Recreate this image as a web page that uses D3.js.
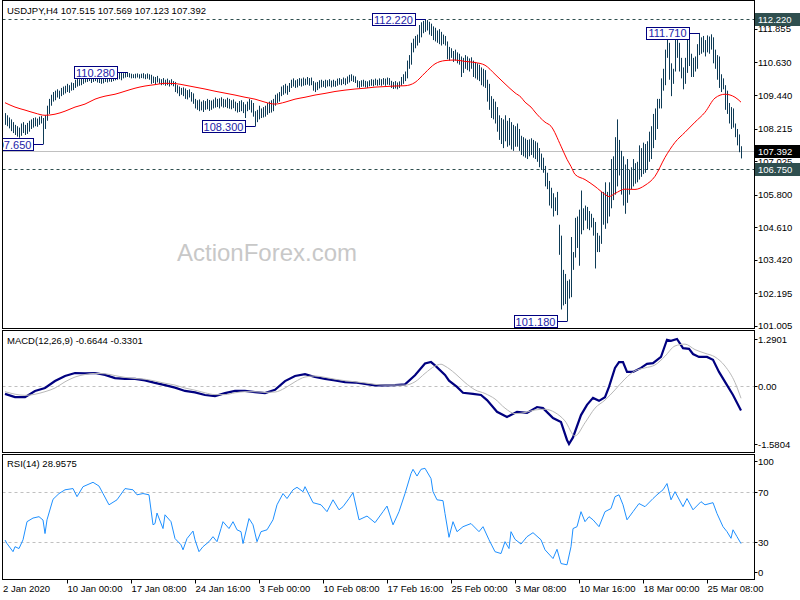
<!DOCTYPE html>
<html>
<head>
<meta charset="utf-8">
<script src="https://cdn.jsdelivr.net/npm/d3@7"></script>
<style>
html, body { margin: 0; padding: 0; background: #fff; }
svg { display: block; font-family: "Liberation Sans", Arial, sans-serif; }
</style>
</head>
<body>
<svg id="chart" width="800" height="600"></svg>
<script>
// USDJPY H4 bars, one entry per bar (high / low)
let highs = [
  108.78,108.70,108.62,108.55,108.45,108.35,108.30,108.25,108.40,108.45,
  108.35,108.42,108.50,108.55,108.60,108.62,108.58,108.65,108.68,108.60,
  108.70,109.05,109.30,109.45,109.55,109.60,109.65,109.60,109.70,109.75,
  109.78,109.85,109.80,109.90,109.88,110.00,110.05,110.02,110.08,110.15,
  110.18,110.22,110.20,110.15,110.18,110.20,110.12,110.18,110.15,110.10,
  110.16,110.12,110.18,110.14,110.20,110.25,110.22,110.27,110.25,110.24,
  110.26,110.28,110.24,110.22,110.20,110.22,110.23,110.20,110.22,110.24,
  110.20,110.23,110.20,110.18,110.12,110.10,110.14,110.05,110.02,110.06,
  110.00,110.04,109.98,110.02,109.95,109.92,109.80,109.75,109.70,109.72,
  109.68,109.62,109.65,109.55,109.50,109.30,109.25,109.28,109.20,109.25,
  109.22,109.30,109.26,109.24,109.28,109.35,109.30,109.32,109.36,109.30,
  109.28,109.34,109.30,109.25,109.28,109.20,109.15,109.22,109.25,109.18,
  109.10,109.20,109.30,109.25,109.15,108.85,108.90,109.05,108.95,109.00,
  109.05,109.15,109.20,109.25,109.30,109.45,109.50,109.55,109.75,109.80,
  109.85,109.78,109.88,110.00,110.05,109.98,110.02,110.06,110.04,110.08,
  110.04,110.10,110.06,110.08,109.95,109.90,109.92,109.98,110.00,109.96,
  110.00,109.98,110.02,109.97,110.00,109.96,110.04,110.06,110.02,110.08,
  110.05,110.12,110.18,110.20,110.15,110.12,109.98,109.95,109.98,110.00,
  109.96,109.94,109.98,110.02,110.00,110.04,110.00,110.05,110.02,110.06,
  110.04,110.08,110.06,109.96,109.92,109.95,109.90,109.94,110.10,110.20,
  110.30,110.70,110.90,111.35,111.50,111.60,111.65,112.00,112.10,112.15,
  112.22,112.18,112.12,112.05,111.95,111.90,111.80,111.85,111.75,111.65,
  111.60,111.40,111.20,111.15,111.05,111.10,111.00,110.95,110.85,110.80,
  110.90,110.85,110.78,110.82,110.70,110.65,110.60,110.55,110.45,110.40,
  110.35,110.00,109.85,109.40,109.30,109.20,109.00,108.70,108.60,108.55,
  108.70,108.50,108.60,108.45,108.35,108.30,108.40,108.20,107.95,107.90,
  107.85,107.80,107.82,107.86,107.80,107.75,107.70,107.50,107.30,107.15,
  106.85,106.60,106.30,106.05,105.85,105.70,105.90,104.70,104.30,103.05,
  102.90,102.65,102.70,104.25,103.70,104.95,105.00,105.25,105.95,105.30,
  105.40,105.35,105.20,105.10,104.95,104.80,104.40,104.30,105.90,105.90,
  106.25,105.90,106.25,107.10,107.20,107.90,108.55,107.80,107.40,107.20,
  106.90,107.10,106.70,106.80,107.10,106.95,107.00,107.60,107.50,107.70,
  107.65,107.75,108.10,108.30,108.75,108.95,109.30,109.30,110.05,110.40,
  111.10,111.50,111.35,110.60,110.40,111.65,111.65,111.35,110.80,110.45,
  110.80,111.70,111.70,110.95,110.80,110.85,111.30,111.71,111.55,111.60,
  111.45,111.62,111.58,111.66,111.55,111.10,110.90,110.85,110.20,110.05,
  109.80,109.60,109.15,109.00,108.95,108.40,108.20,108.00,107.569
];

let lows = [
  108.35,108.30,108.22,108.12,108.05,107.98,107.92,107.88,107.95,108.05,
  107.98,108.02,108.10,108.20,108.25,108.30,108.28,108.35,108.40,107.65,
  108.20,108.50,108.75,109.05,109.20,109.25,109.35,109.30,109.40,109.45,
  109.50,109.55,109.52,109.60,109.62,109.70,109.75,109.78,109.80,109.85,
  109.90,109.92,109.95,109.88,109.92,109.95,109.90,109.88,109.85,109.87,
  109.92,109.90,109.93,109.92,109.95,109.98,110.00,110.02,109.98,110.05,
  110.08,110.10,110.08,110.05,110.06,110.05,110.08,110.04,110.06,110.05,
  110.02,110.04,110.00,109.85,109.88,109.82,109.90,109.85,109.80,109.82,
  109.78,109.80,109.75,109.80,109.76,109.55,109.50,109.40,109.45,109.40,
  109.30,109.28,109.35,109.20,109.12,108.95,108.90,108.85,108.88,108.82,
  108.90,108.92,108.86,108.90,108.95,108.98,109.00,108.95,109.02,108.98,
  109.00,108.96,108.94,108.92,108.96,108.85,108.80,108.82,108.85,108.78,
  108.60,108.85,108.90,108.80,108.65,108.30,108.45,108.55,108.60,108.62,
  108.65,108.72,108.78,108.80,108.85,109.05,109.15,109.20,109.40,109.45,
  109.50,109.45,109.55,109.70,109.75,109.70,109.72,109.78,109.75,109.78,
  109.80,109.82,109.78,109.80,109.60,109.55,109.62,109.68,109.72,109.74,
  109.70,109.75,109.76,109.72,109.75,109.74,109.78,109.82,109.80,109.84,
  109.80,109.85,109.90,109.95,109.92,109.88,109.72,109.70,109.74,109.75,
  109.72,109.70,109.76,109.78,109.76,109.80,109.78,109.80,109.78,109.82,
  109.78,109.82,109.80,109.70,109.66,109.68,109.65,109.70,109.78,109.85,
  109.95,110.05,110.40,110.55,111.00,111.15,111.25,111.35,111.55,111.70,
  111.75,111.80,111.65,111.60,111.45,111.40,111.35,111.30,111.25,111.30,
  111.25,110.75,110.70,110.80,110.65,110.70,110.60,110.55,110.10,110.25,
  110.40,110.35,110.30,110.40,110.10,110.05,110.00,109.95,109.80,109.75,
  109.70,109.20,108.90,108.60,108.55,108.40,108.10,107.80,107.65,107.50,
  107.75,107.55,107.60,107.45,107.40,107.55,107.55,107.40,107.25,107.20,
  107.15,107.10,107.20,107.25,107.15,107.10,107.00,106.80,106.70,106.60,
  106.10,106.00,105.40,105.30,105.00,105.20,105.05,103.60,101.60,101.75,
  101.80,101.18,102.00,102.05,103.05,103.50,103.85,103.20,104.35,104.50,
  104.85,104.55,104.50,104.60,104.30,103.10,103.70,103.70,104.00,104.70,
  104.55,104.75,105.00,105.30,105.60,105.80,106.10,106.50,105.80,105.40,
  105.10,105.50,105.80,106.00,106.10,106.20,106.25,106.35,106.45,106.55,
  106.60,106.70,107.00,107.10,107.50,107.80,108.20,108.95,108.95,109.60,
  109.80,110.80,110.00,109.40,109.85,110.30,110.80,110.30,110.05,109.65,
  109.85,110.25,110.50,110.10,110.10,110.30,110.40,110.90,110.95,111.00,
  110.85,111.00,110.95,111.10,110.60,110.40,110.00,109.70,109.55,109.65,
  108.90,108.75,108.40,108.20,108.25,107.90,107.60,107.35,107.123
];

let lastBar = [107.515, 107.569, 107.123, 107.392]; // open high low close

// red moving average, [bar, price]
let maPts = [
  [0,109.16],[5,109.00],[10,108.89],[15,108.78],[20,108.70],[25,108.74],[30,108.85],[35,109.00],
  [40,109.11],[45,109.29],[50,109.40],[55,109.47],[60,109.58],[65,109.69],[70,109.77],[75,109.82],
  [80,109.87],[85,109.86],[90,109.80],[95,109.73],[100,109.66],[105,109.58],[110,109.51],[115,109.44],
  [120,109.36],[125,109.29],[130,109.18],[135,109.11],[140,109.18],[145,109.29],[150,109.36],[155,109.44],
  [160,109.50],[165,109.57],[170,109.62],[175,109.66],[180,109.69],[185,109.73],[190,109.75],[195,109.77],
  [200,109.78],[205,109.90],[210,110.25],[215,110.58],[220,110.70],[225,110.72],[230,110.67],[235,110.63],
  [240,110.53],[245,110.20],[250,109.85],[255,109.52],[258,109.36],[260,109.18],[263,109.00],[265,108.82],
  [270,108.45],[273,108.30],[278,107.57],[281,107.09],[283,106.83],[285,106.54],[290,106.35],[295,106.10],
  [300,105.81],[302,105.73],[305,105.84],[310,106.00],[315,105.99],[320,106.14],[325,106.47],[330,107.16],
  [335,107.71],[340,108.08],[345,108.45],[350,108.81],[355,109.33],[360,109.47],[365,109.36],[368,109.18]
];

let macdPts = [
  [0,-0.21],[5,-0.30],[10,-0.30],[15,-0.13],[20,-0.05],[25,0.14],[30,0.28],[35,0.36],[40,0.35],[45,0.36],
  [50,0.31],[55,0.22],[60,0.20],[65,0.20],[70,0.16],[75,0.09],[80,0.03],[85,-0.04],[90,-0.13],[95,-0.17],
  [100,-0.24],[105,-0.27],[110,-0.19],[115,-0.13],[120,-0.13],[125,-0.16],[130,-0.19],[135,-0.10],[140,0.14],
  [145,0.28],[150,0.33],[155,0.25],[160,0.20],[165,0.16],[170,0.11],[175,0.10],[180,0.06],[185,0.02],
  [190,0.02],[195,0.03],[200,0.05],[205,0.30],[210,0.62],[213,0.66],[215,0.57],[220,0.31],[222,0.15],
  [226,-0.02],[229,-0.18],[234,-0.21],[238,-0.24],[241,-0.38],[246,-0.70],[251,-0.84],[256,-0.70],
  [261,-0.73],[266,-0.57],[269,-0.60],[274,-0.87],[278,-0.98],[281,-1.47],[282,-1.58],[284,-1.40],
  [288,-0.79],[291,-0.51],[294,-0.32],[297,-0.40],[300,-0.30],[302,-0.02],[305,0.50],[307,0.66],
  [309,0.66],[311,0.39],[314,0.39],[318,0.50],[321,0.61],[324,0.63],[328,0.80],[331,1.27],[333,1.24],
  [336,1.29],[339,1.04],[342,1.02],[344,0.88],[347,0.80],[351,0.80],[354,0.72],[357,0.39],[361,0.03],
  [364,-0.24],[368,-0.6644]
];

let signalPts = [
  [0,-0.15],[10,-0.25],[20,-0.15],[25,-0.05],[30,0.12],[35,0.25],[40,0.32],[45,0.35],[50,0.34],[55,0.29],
  [60,0.24],[65,0.21],[70,0.19],[75,0.14],[80,0.08],[85,0.03],[90,-0.05],[95,-0.11],[100,-0.18],[105,-0.23],
  [110,-0.23],[115,-0.18],[120,-0.15],[125,-0.15],[130,-0.17],[135,-0.16],[140,-0.05],[145,0.12],[150,0.25],
  [155,0.28],[160,0.24],[165,0.19],[170,0.15],[175,0.12],[180,0.09],[185,0.05],[190,0.03],[195,0.03],
  [200,0.03],[205,0.12],[210,0.35],[215,0.55],[218,0.60],[220,0.55],[225,0.35],[230,0.10],[235,-0.10],
  [240,-0.20],[245,-0.35],[250,-0.60],[255,-0.75],[260,-0.72],[265,-0.65],[270,-0.63],[275,-0.72],
  [280,-0.95],[285,-1.36],[290,-1.00],[295,-0.60],[300,-0.38],[305,-0.10],[310,0.20],[315,0.42],
  [320,0.50],[325,0.58],[330,0.82],[335,1.10],[340,1.15],[345,1.00],[350,0.90],[355,0.80],[360,0.55],
  [365,0.10],[368,-0.3301]
];

let rsiPts = [
  [0,31.8],[1,29],[4,22.5],[5,26.5],[7,25],[9,32],[11,46.5],[14,49.4],[17,50.5],[19,47.8],[20,37],[21,48],
  [24,64.4],[27,69],[30,72],[34,73],[36,66.5],[39,74.5],[44,78],[47,75],[49,69],[52,60],[56,64],[60,73],
  [64,72],[66,68],[69,69],[72,68],[74,44],[75,45],[76,53.4],[79,41],[80,52],[83,46.5],[85,33],[88,28],
  [89,24],[91,33],[94,39],[95,32],[97,22.5],[99,26.5],[102,30.5],[104,34.5],[106,30.5],[108,41],[109,46.5],
  [112,41],[114,46.5],[116,40],[118,38.5],[119,29],[122,49],[124,44],[126,30.5],[128,38.5],[131,40],
  [134,48],[136,60],[139,69],[141,65],[144,72],[146,74],[149,70.5],[150,74.5],[154,61.7],[158,60],
  [161,54.5],[164,64],[167,56],[169,58.5],[172,65],[174,69.7],[177,48],[181,51],[185,45.7],[189,54.5],
  [191,59],[194,44],[197,54.5],[200,69],[203,85],[204,88.4],[206,83],[208,88.4],[210,89.2],[213,81],
  [214,70.5],[216,64],[219,63.3],[220,53],[222,34],[224,46.5],[226,38.5],[229,42.5],[233,45],[237,38.5],
  [239,42.5],[242,32],[245,22.5],[248,21],[250,30.5],[252,25],[253,38.5],[255,32.4],[258,28.6],[261,34.5],
  [264,37.7],[268,32],[270,24],[274,17],[276,24.4],[278,13],[281,12],[283,26.5],[284,41],[286,42.5],
  [288,54.5],[290,46.5],[292,50.5],[294,48],[297,42.5],[300,54.5],[303,57],[305,66.5],[307,68],[309,60],
  [311,48],[314,54.5],[317,61],[320,58.5],[324,65],[326,68],[329,72],[331,77],[333,64],[335,70.5],
  [339,58.5],[341,65],[344,56],[348,62.5],[350,60],[354,61.7],[356,53],[359,42.5],[361,38.5],[363,33.2],
  [364,40],[366,34.5],[368,28.9575]
];

let priceTicks = [111.855, 110.630, 109.440, 108.215, 107.025, 105.800, 104.610, 103.420, 102.195, 101.005];
let levels = [112.220, 106.750];
let markBars = [19, 61, 125, 210, 281, 347];
let markPrices = [107.650, 110.280, 108.300, 112.220, 101.180, 111.710];
let macdTicks = [1.2901, 0, -1.5804];
let rsiTicks = [100, 70, 30, 0];
let rsiLevels = [70, 30];
let timeBars = [0, 31, 63, 95, 127, 159, 191, 223, 255, 287, 319, 351];
let timeLabels = ["2 Jan 2020", "10 Jan 00:00", "17 Jan 08:00", "24 Jan 16:00", "3 Feb 00:00", "10 Feb 08:00",
                  "17 Feb 16:00", "25 Feb 00:00", "3 Mar 08:00", "10 Mar 16:00", "18 Mar 00:00", "25 Mar 08:00"];

let svg = d3.select("#chart");

let L = 2.5, R = 754.5;
let mainTop = 0.5, mainBot = 328.5;
let macdTop = 330.5, macdBot = 452.5;
let rsiTop = 454.5, rsiBot = 579.5;

let x = d3.scaleLinear().domain([0, 368]).range([5, 741]);
let yP = d3.scaleLinear().domain([101.18, 112.22]).range([321, 19]);
let yM = d3.scaleLinear().domain([-1.5804, 1.2901]).range([444, 339]);
let yR = d3.scaleLinear().domain([0, 100]).range([579.8, 454.8]);

function px(v) { return Math.round(v) + 0.5; }

let defs = svg.append("defs");
function addClip(id, y0, y1) {
    defs.append("clipPath").attr("id", id).append("rect")
        .attr("x", L + 0.5).attr("y", y0).attr("width", R - L - 1).attr("height", y1 - y0);
}
addClip("clipMain", mainTop + 0.5, mainBot - 0.5);
addClip("clipMacd", macdTop + 0.5, macdBot - 0.5);
addClip("clipRsi", rsiTop + 0.5, rsiBot - 0.5);

// ---- main price panel ----
let gMain = svg.append("g").attr("clip-path", "url(#clipMain)");

gMain.append("text")
    .attr("x", 267).attr("y", 261)
    .attr("text-anchor", "middle")
    .style("font-size", "24px")
    .attr("fill", "#c8c8c8")
    .text("ActionForex.com");

gMain.selectAll("line.level")
    .data(levels)
    .enter().append("line")
    .attr("class", "level")
    .attr("x1", L).attr("x2", R)
    .attr("y1", d => px(yP(d))).attr("y2", d => px(yP(d)))
    .attr("stroke", "#2f4f4f")
    .attr("stroke-dasharray", "3,3");

gMain.append("line")
    .attr("x1", L).attr("x2", R)
    .attr("y1", px(yP(lastBar[3]))).attr("y2", px(yP(lastBar[3])))
    .attr("stroke", "#c0c0c0");

gMain.selectAll("line.bar")
    .data(highs)
    .enter().append("line")
    .attr("class", "bar")
    .attr("x1", (d, i) => px(x(i))).attr("x2", (d, i) => px(x(i)))
    .attr("y1", d => yP(d)).attr("y2", (d, i) => yP(lows[i]))
    .attr("stroke", "#0e3b56");

let maLine = d3.line()
    .x(d => x(d[0])).y(d => yP(d[1]))
    .curve(d3.curveMonotoneX);

gMain.append("path")
    .datum(maPts)
    .attr("d", maLine)
    .attr("fill", "none")
    .attr("stroke", "#ff0000")
    .attr("stroke-width", 1);

// high / low call-outs
let marks = gMain.selectAll("g.mark")
    .data(markBars)
    .enter().append("g")
    .attr("class", "mark");

marks.append("line")
    .attr("x1", d => x(d) - 10).attr("x2", d => px(x(d)))
    .attr("y1", (d, i) => px(yP(markPrices[i]))).attr("y2", (d, i) => px(yP(markPrices[i])))
    .attr("stroke", "#000080");

marks.append("rect")
    .attr("x", d => Math.round(x(d) - 53) + 0.5)
    .attr("y", (d, i) => Math.round(yP(markPrices[i]) - 6) + 0.5)
    .attr("width", 43).attr("height", 12)
    .attr("fill", "#fff")
    .attr("stroke", "#000080");

marks.append("text")
    .attr("x", d => x(d) - 31.5)
    .attr("y", (d, i) => yP(markPrices[i]) + 4.5)
    .attr("text-anchor", "middle")
    .style("font-size", "11px")
    .attr("fill", "#1c1ca8")
    .text((d, i) => markPrices[i].toFixed(3));

svg.append("text")
    .attr("x", 7).attr("y", 14)
    .style("font-size", "9.5px")
    .attr("fill", "#000")
    .text("USDJPY,H4  " + lastBar.map(v => v.toFixed(3)).join(" "));

// ---- MACD panel ----
let gMacd = svg.append("g").attr("clip-path", "url(#clipMacd)");

gMacd.append("line")
    .attr("x1", L).attr("x2", R)
    .attr("y1", px(yM(0))).attr("y2", px(yM(0)))
    .attr("stroke", "#c0c0c0")
    .attr("stroke-dasharray", "3,3");

let macdLine = d3.line().x(d => x(d[0])).y(d => yM(d[1]));

gMacd.append("path")
    .datum(macdPts)
    .attr("d", macdLine.curve(d3.curveLinear))
    .attr("fill", "none")
    .attr("stroke", "#00007f")
    .attr("stroke-width", 2.2);

gMacd.append("path")
    .datum(signalPts)
    .attr("d", d3.line().x(d => x(d[0])).y(d => yM(d[1])).curve(d3.curveMonotoneX))
    .attr("fill", "none")
    .attr("stroke", "#b8b8b8")
    .attr("stroke-width", 1);

svg.append("text")
    .attr("x", 7).attr("y", 344)
    .style("font-size", "9.5px")
    .attr("fill", "#000")
    .text("MACD(12,26,9) " + macdPts[macdPts.length - 1][1].toFixed(4) + " " + signalPts[signalPts.length - 1][1].toFixed(4));

// ---- RSI panel ----
let gRsi = svg.append("g").attr("clip-path", "url(#clipRsi)");

gRsi.selectAll("line.lvl")
    .data(rsiLevels)
    .enter().append("line")
    .attr("class", "lvl")
    .attr("x1", L).attr("x2", R)
    .attr("y1", d => px(yR(d))).attr("y2", d => px(yR(d)))
    .attr("stroke", "#c0c0c0")
    .attr("stroke-dasharray", "3,3");

gRsi.append("path")
    .datum(rsiPts)
    .attr("d", d3.line().x(d => x(d[0])).y(d => yR(d[1])))
    .attr("fill", "none")
    .attr("stroke", "#1e90ff")
    .attr("stroke-width", 1);

svg.append("text")
    .attr("x", 7).attr("y", 467)
    .style("font-size", "9.5px")
    .attr("fill", "#000")
    .text("RSI(14) " + rsiPts[rsiPts.length - 1][1].toFixed(4));

// ---- frames ----
[[mainTop, mainBot], [macdTop, macdBot], [rsiTop, rsiBot]].forEach(function(p) {
    svg.append("rect")
        .attr("x", L).attr("y", p[0])
        .attr("width", R - L).attr("height", p[1] - p[0])
        .attr("fill", "none")
        .attr("stroke", "#000");
});

// ---- right scales ----
function rightLabels(values, scale, fmt, yMin, yMax) {
    let g = svg.append("g");
    values.forEach(function(v) {
        let yy = Math.max(yMin, Math.min(yMax, scale(v)));
        g.append("line")
            .attr("x1", R).attr("x2", R + 3)
            .attr("y1", px(yy)).attr("y2", px(yy))
            .attr("stroke", "#000");
        g.append("text")
            .attr("x", 758).attr("y", yy + 3.5)
            .style("font-size", "9.5px")
            .attr("fill", "#000")
            .text(fmt(v));
    });
}
rightLabels(priceTicks, yP, d => d.toFixed(3), 0, 600);
rightLabels(macdTicks, yM, d => d === 0 ? "0.00" : d.toFixed(4), 0, 600);
rightLabels(rsiTicks, yR, d => String(d), 461, 572);

// price tags on the scale
function priceTag(v, fill) {
    let yy = yP(v);
    svg.append("rect")
        .attr("x", 755).attr("y", Math.round(yy) - 6)
        .attr("width", 45).attr("height", 13)
        .attr("fill", fill);
    svg.append("text")
        .attr("x", 758).attr("y", yy + 4)
        .style("font-size", "9.5px")
        .attr("fill", "#fff")
        .text(v.toFixed(3));
}
levels.forEach(v => priceTag(v, "#2f4f4f"));
priceTag(lastBar[3], "#000");

// ---- time axis ----
let gTime = svg.append("g");
timeBars.forEach(function(b, i) {
    let xx = px(x(b));
    if (i > 0) {
        gTime.append("line")
            .attr("x1", xx).attr("x2", xx)
            .attr("y1", rsiBot).attr("y2", rsiBot + 4)
            .attr("stroke", "#000");
    }
    gTime.append("text")
        .attr("x", i === 0 ? 3 : xx)
        .attr("y", 592)
        .style("font-size", "9.5px")
        .attr("fill", "#000")
        .text(timeLabels[i]);
});
</script>
</body>
</html>
